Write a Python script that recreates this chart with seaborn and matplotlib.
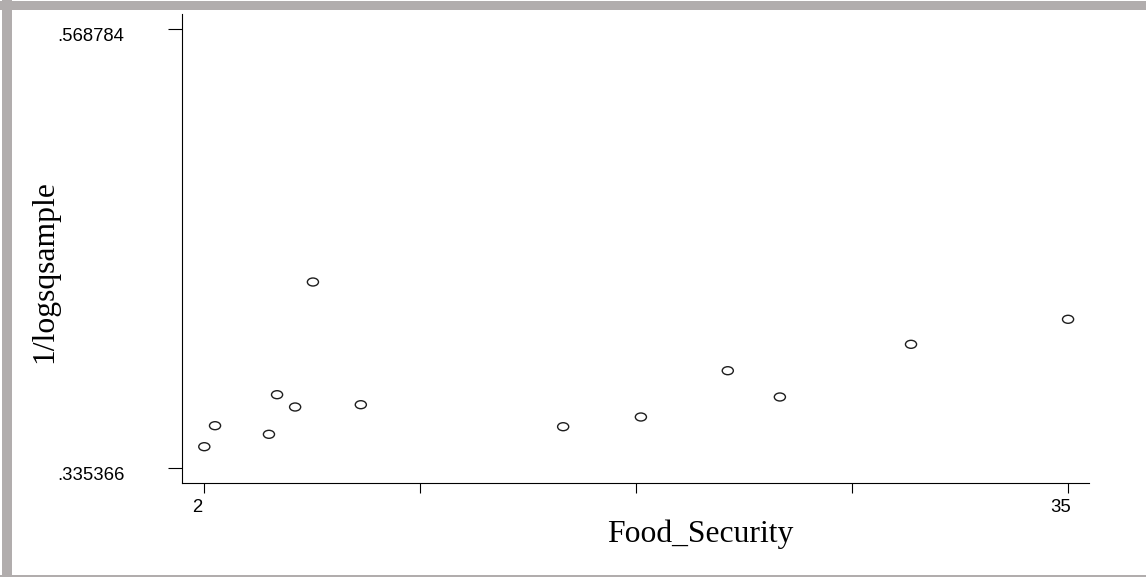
import numpy as np
import matplotlib
matplotlib.use("Agg")
import matplotlib.pyplot as plt
from matplotlib.path import Path
from matplotlib.patches import Rectangle
from matplotlib.transforms import ScaledTranslation
import seaborn as sns
import pandas as pd

# ---- data ----
food_security = [2.0, 2.41, 4.47, 4.78, 5.47, 6.15, 7.98, 15.71, 18.68, 22.0, 23.99, 29.0, 35.0]
logsqsample_inv = [0.34685, 0.35802, 0.35344, 0.37450, 0.36796, 0.43442, 0.36918,
                   0.35748, 0.36264, 0.38726, 0.37328, 0.40129, 0.41459]
x_ticks = [2, 10.25, 18.5, 26.75, 35]
x_tick_labels = ["2", "", "", "", "35"]
y_ticks = [0.335366, 0.568784]
y_tick_labels = [".335366", ".568784"]

df = pd.DataFrame({"Food_Security": food_security, "1/logsqsample": logsqsample_inv})

sns.set_theme(style="white")
plt.rcParams["font.family"] = ["Liberation Sans", "DejaVu Sans"]

W, H, DPI = 1146, 577, 100
fig = plt.figure(figsize=(W / DPI, H / DPI), dpi=DPI)
fig.patch.set_facecolor("white")

ax_l, ax_r, ax_b, ax_t = 182, 1089, 483, 14
ax = fig.add_axes([ax_l / W, (H - ax_b) / H, (ax_r - ax_l) / W, (ax_b - ax_t) / H])

# elliptical hollow marker (like the Stata rendering)
circ = Path.unit_circle()
ell = Path(circ.vertices * np.array([1.0, 0.72]), circ.codes)

sns.scatterplot(data=df, x="Food_Security", y="1/logsqsample", ax=ax,
                marker=ell, s=64, facecolors="none", edgecolors="#1e1e1e",
                linewidths=1.0, legend=False)

ax.set_xlim(1.148, 35.80)
ax.set_ylim(0.32755, 0.576919)

for side in ["top", "right"]:
    ax.spines[side].set_visible(False)
for side in ["left", "bottom"]:
    ax.spines[side].set_color("black")
    ax.spines[side].set_linewidth(0.8)

ax.set_xticks(x_ticks)
ax.set_xticklabels(x_tick_labels)
ax.set_yticks(y_ticks)
ax.set_yticklabels(y_tick_labels)
ax.tick_params(axis="x", direction="out", length=7.2, width=0.8, color="black",
               labelsize=13.3, pad=4, bottom=True, labelcolor="black")
ax.tick_params(axis="y", direction="out", length=10.1, width=0.8, color="black",
               labelsize=13.3, pad=31.5, left=True, labelcolor="black")

for t in ax.xaxis.get_major_ticks():
    t.label1.set_transform(t.label1.get_transform() + ScaledTranslation(-7.5 / DPI, 0, fig.dpi_scale_trans))
for t in ax.yaxis.get_major_ticks():
    t.label1.set_transform(t.label1.get_transform() + ScaledTranslation(0, -5 / DPI, fig.dpi_scale_trans))

serif = ["Liberation Serif", "DejaVu Serif"]
ax.set_xlabel("Food_Security", family=serif, fontsize=22.8, color="black", va="baseline")
ax.xaxis.set_label_coords((700 - ax_l) / (ax_r - ax_l), (ax_b - 542) / (ax_b - ax_t))
ax.set_ylabel("1/logsqsample", family=serif, fontsize=22.8, color="black", va="center")
ax.yaxis.set_label_coords((45 - ax_l) / (ax_r - ax_l), (ax_b - 272) / (ax_b - ax_t))

# gray frame like the reference
gray = "#b1adad"
fig.patches.append(Rectangle((0, (H - 10) / H), 1, 9 / H, transform=fig.transFigure,
                             facecolor=gray, edgecolor="none", zorder=0))
fig.patches.append(Rectangle((2 / W, 0), 10 / W, 1, transform=fig.transFigure,
                             facecolor=gray, edgecolor="none", zorder=0))
fig.patches.append(Rectangle((0, 0), 1, 2.5 / H, transform=fig.transFigure,
                             facecolor=gray, edgecolor="none", zorder=0))

fig.savefig("out.png", dpi=DPI)
